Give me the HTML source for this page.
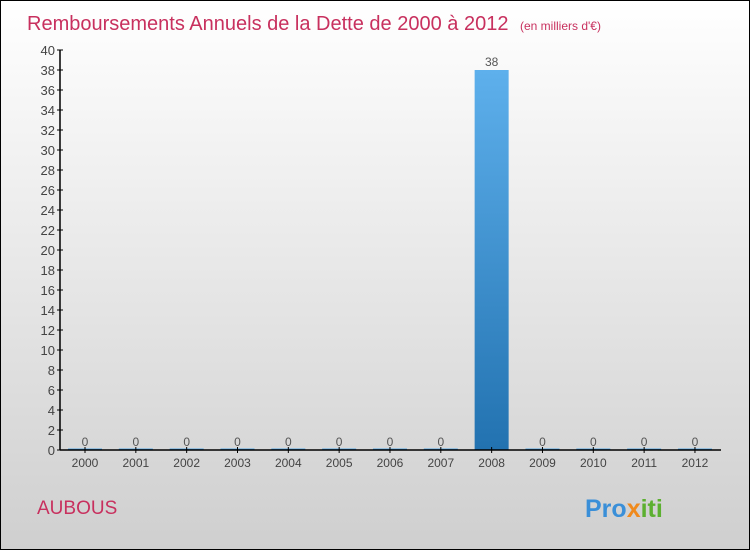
<!DOCTYPE html>
<html><head><meta charset="utf-8"><style>
body{margin:0}
#c{width:750px;height:550px;position:relative;box-sizing:border-box;border:1px solid #000;background:linear-gradient(#fff,#cfcfcf);font-family:"Liberation Sans",sans-serif;overflow:hidden}
</style></head><body>
<div id="c">
<svg width="748" height="548" style="position:absolute;left:0;top:0" font-family="Liberation Sans, sans-serif">
<text x="26" y="29" font-size="20" fill="#c8305e">Remboursements Annuels de la Dette de 2000 à 2012 <tspan font-size="12" dx="6">(en milliers d'€)</tspan></text>
<g id="plot"></g>
<text x="36" y="513" font-size="19" fill="#c8305e">AUBOUS</text>
<text x="584" y="516" font-size="25" font-weight="bold" fill="#3a8fd8">Pro<tspan fill="#f08a1c">x</tspan><tspan fill="#5cb030">iti</tspan></text>
</svg>
</div>
<script>
const categories=["2000","2001","2002","2003","2004","2005","2006","2007","2008","2009","2010","2011","2012"];
const values=[0,0,0,0,0,0,0,0,38,0,0,0,0];
const yTicks=[0,2,4,6,8,10,12,14,16,18,20,22,24,26,28,30,32,34,36,38,40];
const NS="http://www.w3.org/2000/svg";
const g=document.getElementById('plot');
const y0=449,yMax=40,ph=400,x0=59;
const ys=v=>y0-v/yMax*ph;
const xs=i=>84+i*50.83;
function el(t,a,p){const e=document.createElementNS(NS,t);for(const k in a)e.setAttribute(k,a[k]);(p||g).appendChild(e);return e;}
const defs=el('defs',{});
const lg=el('linearGradient',{id:'bg',x1:0,y1:0,x2:0,y2:1},defs);
el('stop',{offset:'0','stop-color':'#5eb0ec'},lg);el('stop',{offset:'1','stop-color':'#2272b0'},lg);
values.forEach((v,i)=>{
 const h=Math.max(ys(0)-ys(v),1.5);
 const r=el('rect',{x:xs(i)-17,y:ys(0)-h,width:34,height:h,fill:'url(#bg)'});
 
 
 const t=el('text',{x:xs(i),y:ys(v)-4,'font-size':12,fill:'#555','text-anchor':'middle'});
 t.textContent=v;
 
 
 const c=el('text',{x:xs(i),y:466,'font-size':12,fill:'#444','text-anchor':'middle'});
 c.textContent=categories[i];
 
 
 el('line',{x1:xs(i),x2:xs(i),y1:y0-3,y2:y0+3,stroke:'#000'});
});
yTicks.forEach(v=>{
 el('line',{x1:x0-3,x2:x0+3,y1:ys(v),y2:ys(v),stroke:'#000'});
 const t=el('text',{x:x0-5,y:ys(v)+5,'font-size':13,fill:'#444','text-anchor':'end'});
 t.textContent=v;
 
 
});
const ya=el('line',{x1:x0,x2:x0,y1:ys(40),y2:y0,stroke:'#000','stroke-width':1.5});


const xa=el('line',{x1:x0,x2:720,y1:y0,y2:y0,stroke:'#000','stroke-width':1.5});


</script>
</body></html>
